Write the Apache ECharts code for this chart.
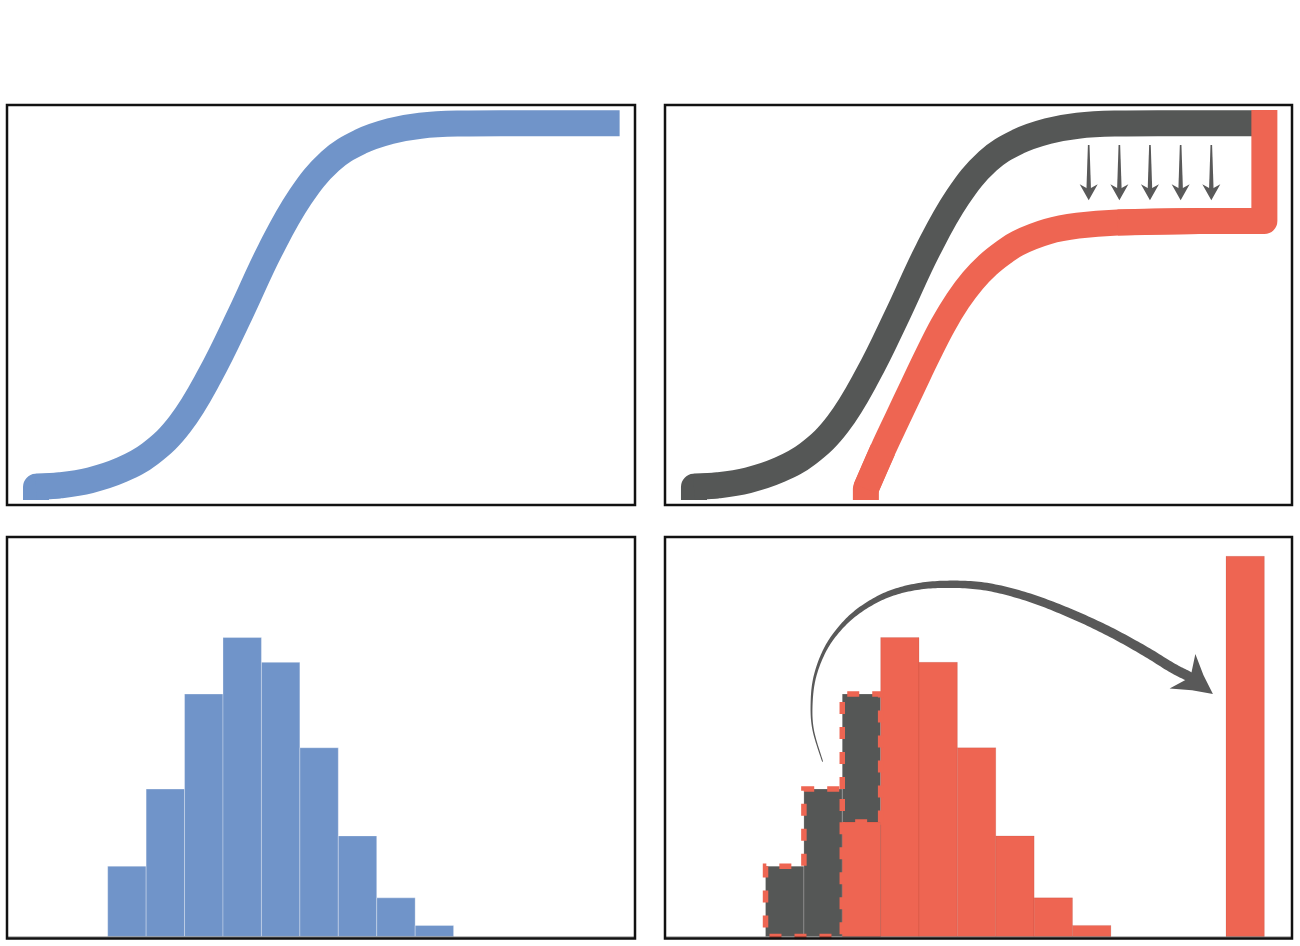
<!DOCTYPE html>
<html>
<head>
<meta charset="utf-8">
<style>
html,body{margin:0;padding:0;background:#fff;}
#chart{width:1300px;height:946px;}
</style>
<script src="https://cdn.jsdelivr.net/npm/echarts@6/dist/echarts.min.js"></script>
</head>
<body>
<div id="chart"></div>
<script>
// ---- DATA (x in histogram-bin units; top panels y = cumulative share; bottom panels y = % per bin) ----
// Original CDF (blue, and dark grey in the right panel)
const cdfX = [-1.865, -1.865, -1.240, -0.458, 0.323, 1.104, 1.885, 2.667, 3.448, 4.229, 5.010, 5.792, 6.573, 7.354, 8.135, 9.177, 10.219, 13.32];
const cdfY = [-0.036, 0.000, 0.004, 0.018, 0.045, 0.091, 0.173, 0.308, 0.475, 0.651, 0.797, 0.896, 0.949, 0.978, 0.993, 0.999, 1.000, 1.000];
// Shifted CDF (red) with the jump at the far right
const redCdfX = [2.615, 2.615, 3.057, 3.448, 3.839, 4.229, 4.620, 5.010, 5.401, 5.792, 6.182, 6.573, 7.354, 8.135, 9.177, 11.313, 13.0, 13.0];
const redCdfY = [-0.036, -0.005, 0.102, 0.190, 0.277, 0.363, 0.444, 0.512, 0.567, 0.610, 0.643, 0.670, 0.702, 0.718, 0.727, 0.731, 0.731, 1.036];
const jumpX = 13.0;
// Small downward arrows
const smallArrowX = [8.422, 9.221, 10.018, 10.818, 11.617];
const smallArrowTop = 0.940;
const smallArrowTip = 0.788;
// Histograms
const blueHist = [5.1, 10.7, 17.6, 21.7, 19.9, 13.7, 7.3, 2.8, 0.8];
const movedHist = [5.1, 10.7, 17.6];
const redHist = [0, 0, 8.3, 21.7, 19.9, 13.7, 7.3, 2.8, 0.8, 0, 0, 0, 27.6];
// Curved arrow (bottom-right), in data units
const arcX = [1.487, 1.242, 1.201, 1.286, 1.547, 1.938, 2.458, 3.154, 3.935, 4.802, 5.758, 6.799, 7.841, 8.883, 9.836, 10.617];
const arcY = [12.69, 14.99, 16.93, 18.86, 20.79, 22.37, 23.70, 24.79, 25.39, 25.57, 25.39, 24.67, 23.58, 22.25, 20.80, 19.47];
const arcHeadBase = [10.862, 19.26];
const arcTip = [11.659, 17.60];

// ---- STYLE / LAYOUT ----
const BLUE = '#7094C9', GRAY = '#555756', RED = '#EE6552', ARROW = '#595959';
const X_MIN = -2.62, X_MAX = 13.72;
const panels = [
  {left: 7,   top: 105, width: 628, height: 400},
  {left: 665, top: 105, width: 627, height: 400},
  {left: 7,   top: 537, width: 628, height: 401.5},
  {left: 665, top: 537, width: 627, height: 401.5}
];
const ARC_W = [1, 1.5, 2, 2.7, 3.4, 4.3, 5.3, 6, 6.6, 7.3, 7.8, 8.3, 8.8, 9.3, 9.7, 10, 10];

const zip = (xs, ys) => xs.map((x, i) => [x, ys[i]]);
const cdfPts = zip(cdfX, cdfY);
const grayPts = zip(cdfX.map(x => Math.min(x, jumpX)), cdfY);
const redPts = zip(redCdfX, redCdfY);

function lineSeries(grid, data, color, smooth, z) {
  return {
    type: 'line', xAxisIndex: grid, yAxisIndex: grid, data: data,
    smooth: smooth, showSymbol: false, symbol: 'none', z: z, silent: true,
    lineStyle: {color: color, width: 26, cap: 'butt', join: 'round'}
  };
}

function histSeries(grid, values, color, stroke, z) {
  return {
    type: 'custom', xAxisIndex: grid, yAxisIndex: grid, z: z, silent: true,
    data: values.map((v, i) => [i, v]),
    renderItem: function (params, api) {
      const i = api.value(0), v = api.value(1);
      if (!(v > 0)) return null;
      const p0 = api.coord([i, v]);
      const p1 = api.coord([i + 1, 0]);
      return {
        type: 'rect',
        shape: {x: p0[0], y: p0[1], width: p1[0] - p0[0], height: p1[1] - p0[1]},
        style: {fill: color, stroke: stroke, lineWidth: 1}
      };
    }
  };
}

function catmull(pts, endPt, seg) {
  const ext = pts.concat([endPt]);
  const out = [];
  for (let i = 0; i < pts.length - 1; i++) {
    const p0 = ext[Math.max(i - 1, 0)], p1 = ext[i], p2 = ext[i + 1], p3 = ext[i + 2];
    for (let s = 0; s < seg; s++) {
      const t = s / seg, t2 = t * t, t3 = t2 * t;
      const f = (a, b, c, d) => 0.5 * ((2 * b) + (-a + c) * t + (2 * a - 5 * b + 4 * c - d) * t2 + (-a + 3 * b - 3 * c + d) * t3);
      out.push([f(p0[0], p1[0], p2[0], p3[0]), f(p0[1], p1[1], p2[1], p3[1]), i + t]);
    }
  }
  const L = pts[pts.length - 1];
  out.push([L[0], L[1], pts.length - 1]);
  return out;
}

const n = redPts.length;
const series = [
  // top-left
  lineSeries(0, cdfPts.slice(0, 3), BLUE, false, 3),
  lineSeries(0, cdfPts.slice(1), BLUE, 0.4, 3),
  // top-right
  lineSeries(1, grayPts.slice(0, 3), GRAY, false, 3),
  lineSeries(1, grayPts.slice(1), GRAY, 0.4, 3),
  lineSeries(1, redPts.slice(0, 3), RED, false, 4),
  lineSeries(1, redPts.slice(1, n - 2), RED, 0.4, 4),
  lineSeries(1, redPts.slice(n - 4), RED, false, 4),
  {
    type: 'custom', xAxisIndex: 1, yAxisIndex: 1, z: 6, silent: true,
    data: smallArrowX.map(x => [x, smallArrowTop, smallArrowTip]),
    renderItem: function (params, api) {
      const top = api.coord([api.value(0), api.value(1)]);
      const tip = api.coord([api.value(0), api.value(2)]);
      const x = tip[0], ty = tip[1];
      return {
        type: 'group',
        children: [
          {type: 'polygon', shape: {points: [[x - 0.8, top[1]], [x + 0.8, top[1]], [x + 2.3, ty - 10], [x - 2.3, ty - 10]]}, style: {fill: ARROW}},
          {type: 'polygon', shape: {points: [[x, ty], [x + 9, ty - 16], [x, ty - 11], [x - 9, ty - 16]]}, style: {fill: ARROW}}
        ]
      };
    }
  },
  // bottom-left
  histSeries(2, blueHist, BLUE, 'rgba(255,255,255,0.3)', 2),
  // bottom-right
  histSeries(3, movedHist, GRAY, 'rgba(255,255,255,0.18)', 2),
  histSeries(3, redHist, RED, 'rgba(120,40,30,0.12)', 3),
  {
    type: 'line', xAxisIndex: 3, yAxisIndex: 3, z: 8, silent: true,
    showSymbol: false, symbol: 'none',
    data: [
      [2, movedHist[1]], [2, movedHist[2]], [3, movedHist[2]], [3, redHist[2]], [2, redHist[2]],
      [2, 0], [0, 0], [0, movedHist[0]], [1, movedHist[0]], [1, movedHist[1]], [2, movedHist[1]], [2, redHist[2]]
    ],
    lineStyle: {color: RED, width: 5.5, type: [12, 13], cap: 'butt', join: 'miter'}
  },
  {
    type: 'custom', xAxisIndex: 3, yAxisIndex: 3, z: 9, silent: true,
    data: [[arcX[0], arcY[0]]],
    renderItem: function (params, api) {
      const tip = api.coord(arcTip);
      const hb = api.coord(arcHeadBase);
      let dx = tip[0] - hb[0], dy = tip[1] - hb[1];
      const dl = Math.hypot(dx, dy) || 1;
      dx /= dl; dy /= dl;
      const nx = -dy, ny = dx;
      const P = (u, v) => [tip[0] + dx * u + nx * v, tip[1] + dy * u + ny * v];
      const pts = arcX.map((x, i) => api.coord([x, arcY[i]])).concat([P(-26, 0)]);
      const samp = catmull(pts, tip, 14);
      const left = [], right = [];
      for (let k = 0; k < samp.length; k++) {
        const a = samp[Math.max(k - 1, 0)], b = samp[Math.min(k + 1, samp.length - 1)];
        let tx = b[0] - a[0], ty = b[1] - a[1];
        const len = Math.hypot(tx, ty) || 1;
        tx /= len; ty /= len;
        const u = samp[k][2];
        const i0 = Math.floor(u), fr = u - i0;
        const w = i0 >= ARC_W.length - 1 ? ARC_W[ARC_W.length - 1] : ARC_W[i0] * (1 - fr) + ARC_W[i0 + 1] * fr;
        left.push([samp[k][0] - ty * w / 2, samp[k][1] + tx * w / 2]);
        right.push([samp[k][0] + ty * w / 2, samp[k][1] - tx * w / 2]);
      }
      const shaft = left.concat(right.reverse());
      const head = [P(0, 0), P(-19, 9.5), P(-38, 21.5), P(-28, 0), P(-38, -21.5), P(-19, -9.5)];
      return {
        type: 'group',
        children: [
          {type: 'polygon', shape: {points: shaft}, style: {fill: ARROW}},
          {type: 'polygon', shape: {points: head}, style: {fill: ARROW}}
        ]
      };
    }
  }
];

const graphics = panels.map(p => ({
  type: 'rect', z: 100, silent: true,
  shape: {x: p.left, y: p.top, width: p.width, height: p.height},
  style: {fill: 'none', stroke: '#111', lineWidth: 2.5}
}));

const option = {
  animation: false,
  backgroundColor: '#ffffff',
  grid: panels.map(p => ({left: p.left, top: p.top, width: p.width, height: p.height, containLabel: false, show: false})),
  xAxis: panels.map((p, i) => ({
    gridIndex: i, type: 'value', min: X_MIN, max: X_MAX, z: 10,
    axisLine: {show: i >= 2, onZero: true, lineStyle: {color: 'rgba(0,0,0,0.26)', width: 2}},
    axisTick: {show: false}, axisLabel: {show: false}, splitLine: {show: false}
  })),
  yAxis: panels.map((p, i) => (i < 2
    ? {gridIndex: i, type: 'value', min: -0.05, max: 1.05, show: false}
    : {gridIndex: i, type: 'value', min: -0.15, max: 29, show: false})),
  series: series,
  graphic: graphics
};

const chart = echarts.init(document.getElementById('chart'), null, {renderer: 'canvas'});
chart.setOption(option);
</script>
</body>
</html>
